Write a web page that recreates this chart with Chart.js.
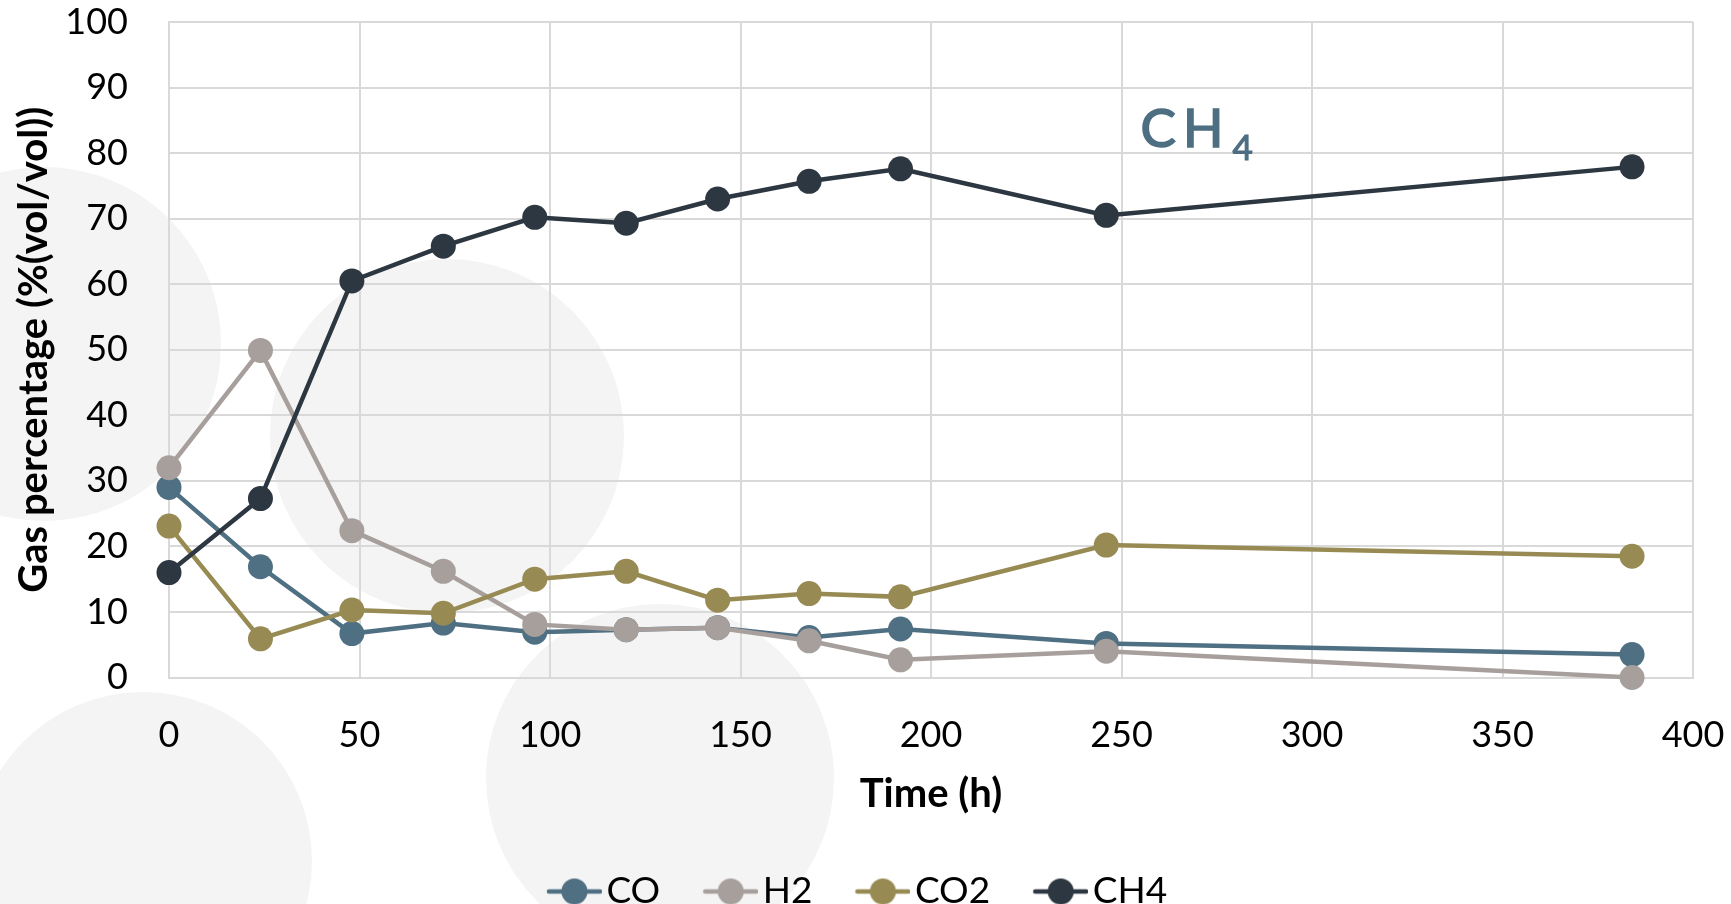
<!DOCTYPE html>
<html>
<head>
<meta charset="utf-8">
<title>Gas percentage vs time</title>
<script src="https://cdn.jsdelivr.net/npm/chart.js@4.4.1/dist/chart.umd.min.js"></script>
<style>
    html, body { margin: 0; padding: 0; background: #fff; }
    #wrap { position: relative; width: 1731px; height: 904px; overflow: hidden; }
    .blob { position: absolute; border-radius: 50%; background: #f4f4f4; }
    #gasChart { position: absolute; left: 0; top: 0; }
</style>
</head>
<body>
<div id="wrap">
    <div class="blob" style="left:-133px; top:167px; width:354px; height:354px"></div>
    <div class="blob" style="left:270px; top:259px; width:354px; height:354px"></div>
    <div class="blob" style="left:-26px; top:692px; width:338px; height:338px"></div>
    <div class="blob" style="left:486px; top:604px; width:348px; height:348px"></div>
    <canvas id="gasChart" width="1731" height="930"></canvas>
</div>

<script>
// time of sampling (h)
const hours = [0, 24, 48, 72, 96, 120, 144, 168, 192, 246, 384];

// gas composition, %(vol/vol)
const coValues  = [29.0, 16.9, 6.7, 8.3, 6.9, 7.3, 7.6, 6.1, 7.4, 5.2, 3.5];
const h2Values  = [32.0, 49.9, 22.4, 16.2, 8.1, 7.3, 7.6, 5.6, 2.7, 4.0, 0.0];
const co2Values = [23.1, 5.9, 10.3, 9.8, 15.0, 16.2, 11.8, 12.8, 12.3, 20.2, 18.5];
const ch4Values = [16.0, 27.3, 60.5, 65.8, 70.2, 69.3, 73.0, 75.7, 77.6, 70.5, 77.9];

const seriesNames = ["CO", "H2", "CO2", "CH4"];
const seriesColors = ["#4f6f83", "#a79f9c", "#978b53", "#2d3741"];

const xTicks = [0, 50, 100, 150, 200, 250, 300, 350, 400];
const yTicks = [0, 10, 20, 30, 40, 50, 60, 70, 80, 90, 100];

// where the "CH4" note sits, in data units (x in h, y in %)
const noteAt = [255, 81];

Chart.defaults.font.family = "Lato, 'Open Sans', sans-serif";
Chart.defaults.color = "#000";

function toPoints(values) {
    return values.map((v, i) => ({ x: hours[i], y: v }));
}

// line + dot icon for the legend, pushed to the right so it sits next to its text
function legendIcon(color) {
    const c = document.createElement("canvas");
    c.width = 90;
    c.height = 28;
    const g = c.getContext("2d");
    g.strokeStyle = color;
    g.lineWidth = 4.5;
    g.lineCap = "round";
    g.beginPath();
    g.moveTo(37, 14);
    g.lineTo(88, 14);
    g.stroke();
    g.fillStyle = color;
    g.beginPath();
    g.arc(62.5, 14, 13, 0, Math.PI * 2);
    g.fill();
    return c;
}
const icons = seriesColors.map(legendIcon);

const ch4Note = {
    id: "ch4Note",
    afterDatasetsDraw(chart) {
        const { ctx, scales } = chart;
        const px = scales.x.getPixelForValue(noteAt[0]);
        const py = scales.y.getPixelForValue(noteAt[1]);
        ctx.save();
        ctx.fillStyle = "#4e6e82";
        ctx.strokeStyle = "#4e6e82";
        ctx.lineWidth = 1.6;
        ctx.textBaseline = "alphabetic";
        ctx.font = "53px Lato";
        ctx.letterSpacing = "7px";
        ctx.fillText("CH", px, py);
        ctx.strokeText("CH", px, py);
        const w = ctx.measureText("CH").width;
        ctx.font = "35px Lato";
        ctx.letterSpacing = "0px";
        ctx.lineWidth = 1.2;
        ctx.fillText("4", px + w + 2, py + 13);
        ctx.strokeText("4", px + w + 2, py + 13);
        ctx.restore();
    }
};

const allValues = [coValues, h2Values, co2Values, ch4Values];
const datasets = allValues.map((vals, i) => ({
    label: seriesNames[i],
    data: toPoints(vals),
    borderColor: seriesColors[i],
    backgroundColor: seriesColors[i],
    borderWidth: 4.5,
    pointRadius: 12.5,
    pointHoverRadius: 12.5,
    pointBorderWidth: 0,
    tension: 0,
    clip: false,
    order: 4 - i   // CH4 ends up on top
}));

const ctx = document.getElementById("gasChart").getContext("2d");
new Chart(ctx, {
    type: "line",
    data: { datasets: datasets },
    plugins: [ch4Note],
    options: {
        responsive: false,
        animation: false,
        events: [],
        layout: { padding: { top: 22, right: 38, bottom: 10, left: 0 } },
        scales: {
            x: {
                type: "linear",
                min: 0,
                max: 400,
                afterBuildTicks: (axis) => { axis.ticks = xTicks.map(v => ({ value: v })); },
                afterFit: (axis) => { axis.height = 173.5; },
                grid: { color: "#d9d9d9", lineWidth: 2, drawTicks: true, tickLength: 36, tickColor: "rgba(0,0,0,0)" },
                border: { color: "#d9d9d9", width: 2 },
                ticks: { font: { size: 36 }, padding: 0, color: "#000" },
                title: {
                    display: true,
                    text: "Time (h)",
                    font: { size: 40, weight: "bold" },
                    padding: { top: 0, bottom: 33 },
                    color: "#000"
                }
            },
            y: {
                min: 0,
                max: 100,
                afterBuildTicks: (axis) => { axis.ticks = yTicks.map(v => ({ value: v })); },
                afterFit: (axis) => { axis.width = 169; },
                grid: { color: "#d9d9d9", lineWidth: 2, drawTicks: true, tickLength: 41, tickColor: "rgba(0,0,0,0)" },
                border: { color: "#d9d9d9", width: 2 },
                ticks: { font: { size: 36 }, padding: 0, color: "#000" },
                title: {
                    display: true,
                    text: "Gas percentage (%(vol/vol))",
                    font: { size: 40, weight: "bold" },
                    padding: { top: 10, bottom: 0 },
                    color: "#000"
                }
            }
        },
        plugins: {
            tooltip: { enabled: false },
            legend: {
                position: "bottom",
                labels: {
                    usePointStyle: true,
                    pointStyleWidth: 62,
                    padding: 22,
                    font: { size: 37 },
                    color: "#000",
                    sort: (a, b) => a.datasetIndex - b.datasetIndex,
                    generateLabels: (chart) => {
                        const items = Chart.defaults.plugins.legend.labels.generateLabels(chart);
                        items.forEach(it => { it.pointStyle = icons[it.datasetIndex]; });
                        return items;
                    }
                }
            }
        }
    }
});
</script>
</body>
</html>
